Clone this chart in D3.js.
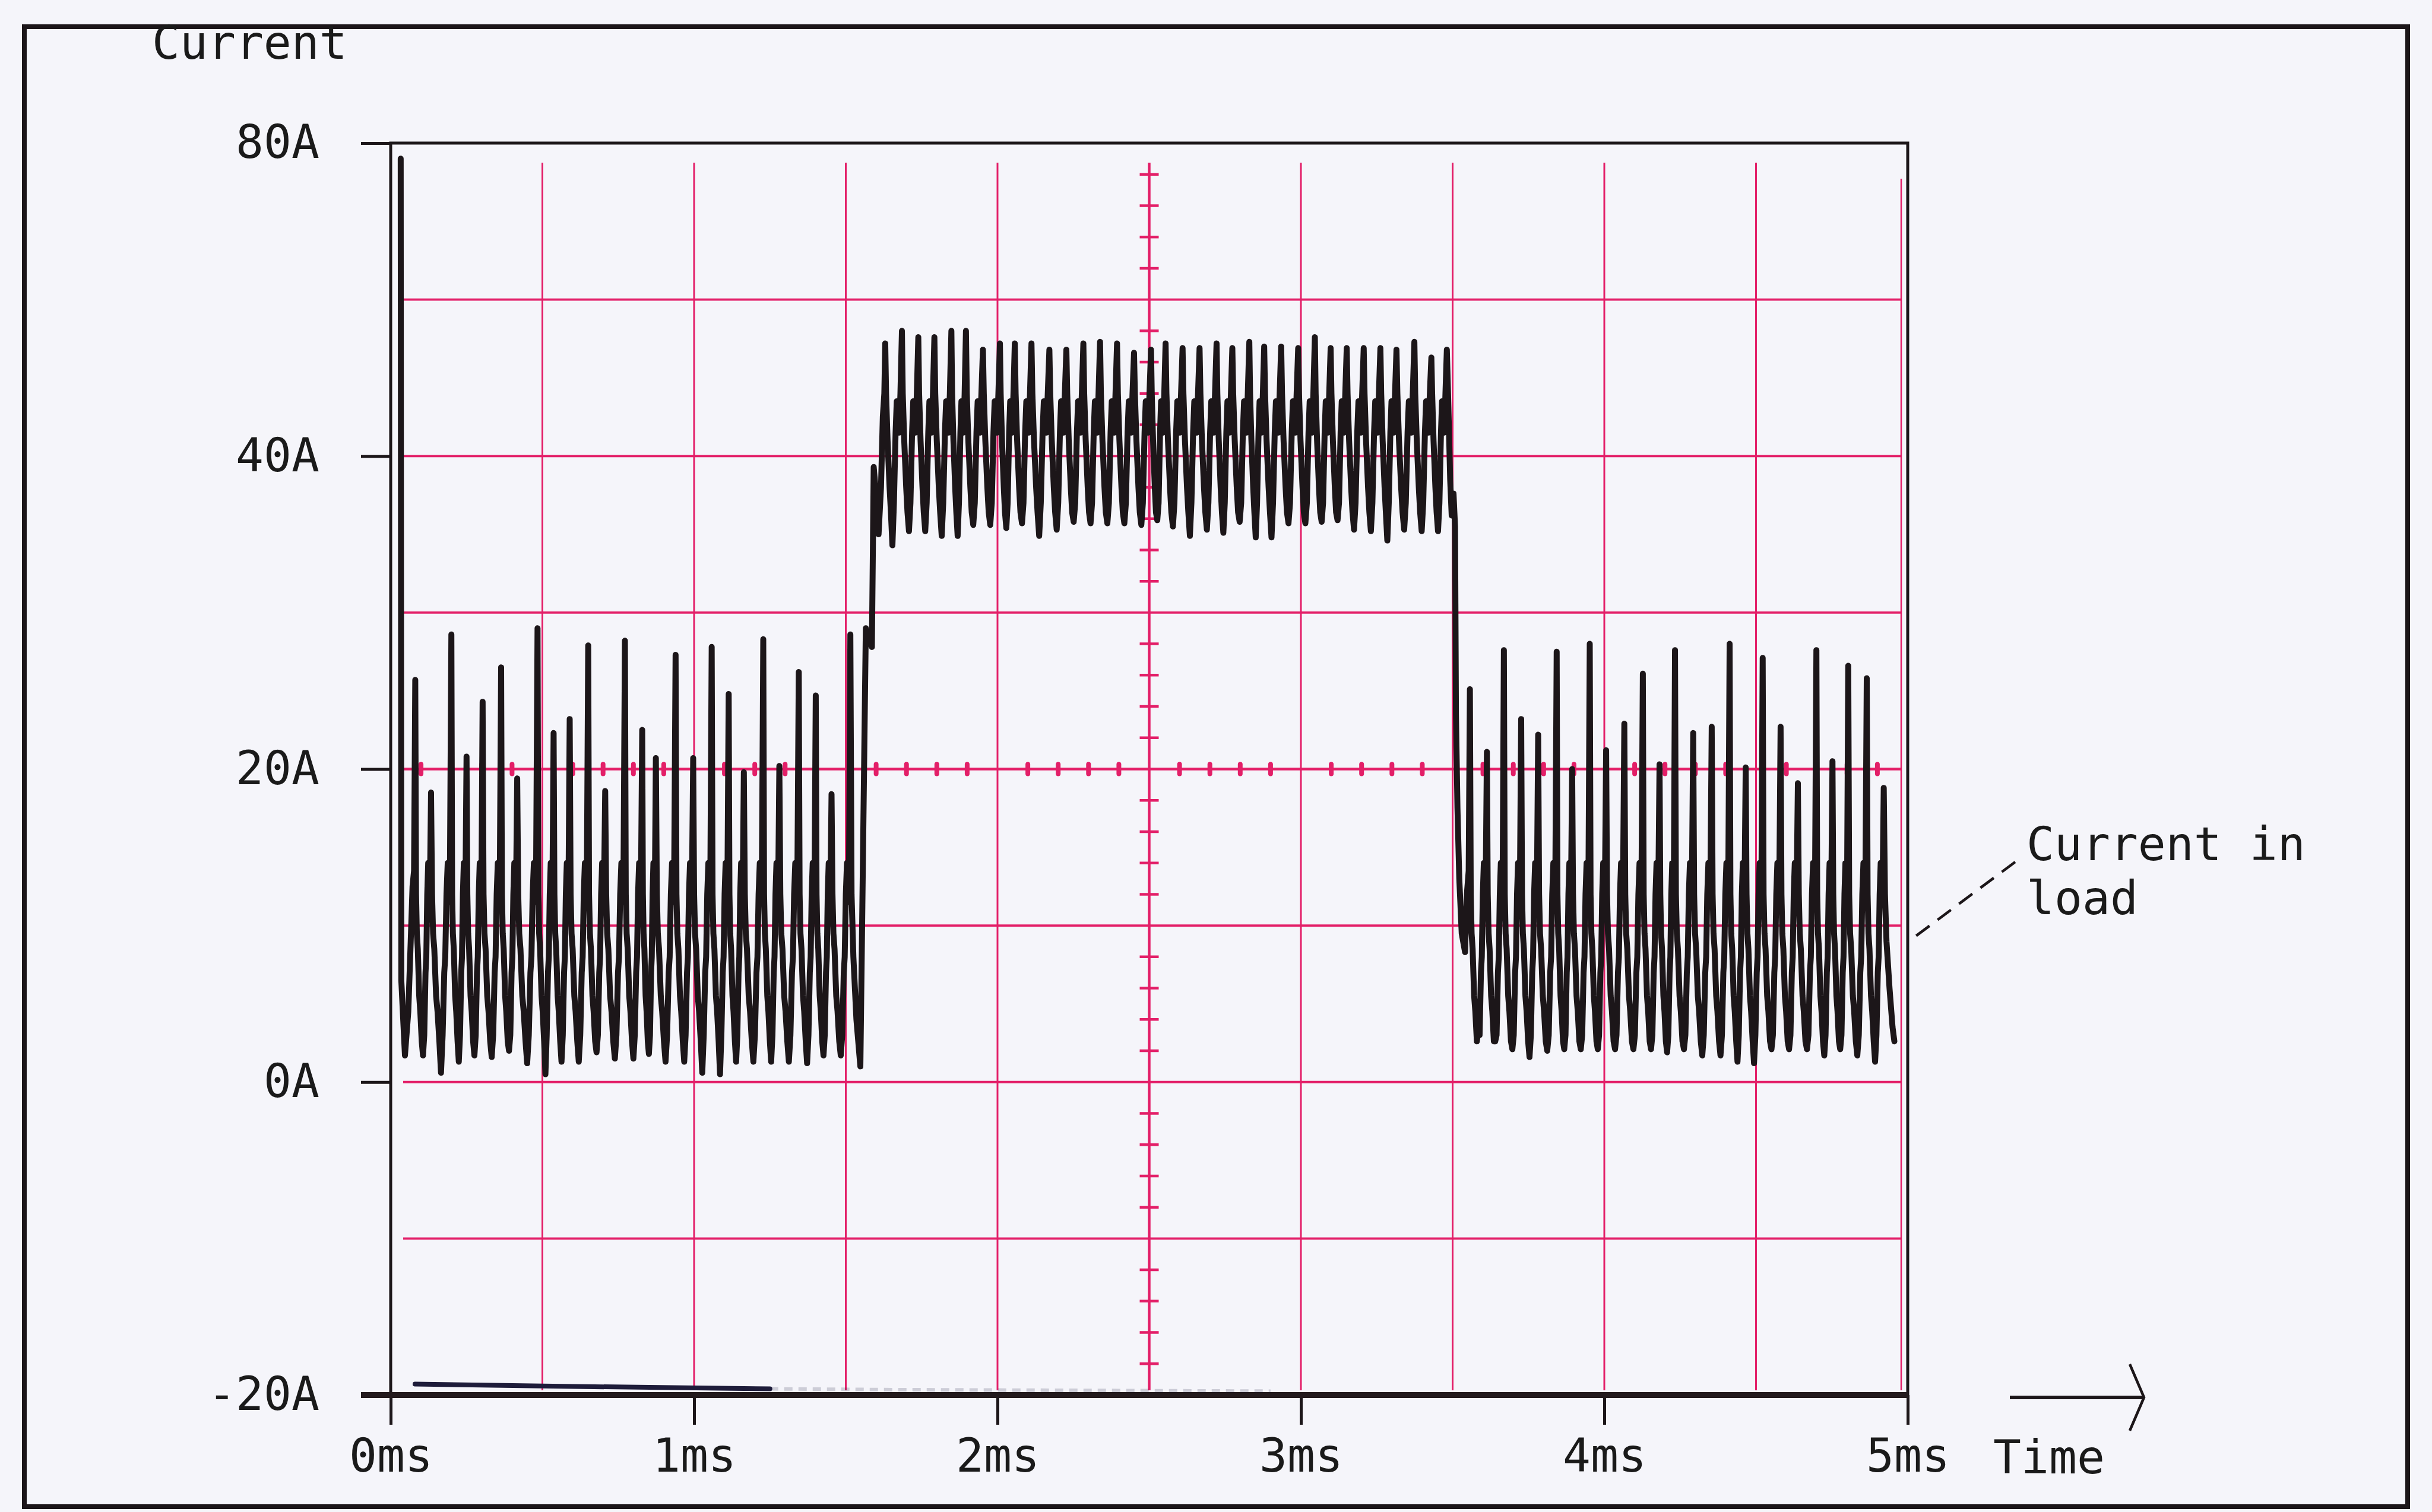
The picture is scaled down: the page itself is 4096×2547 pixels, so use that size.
<!DOCTYPE html>
<html>
<head>
<meta charset="utf-8">
<script src="https://d3js.org/d3.v7.min.js"></script>
<style>
  html, body { margin: 0; padding: 0; background: #f5f5fa; }
  svg { display: block; }
  .lbl { font-family: "DejaVu Sans Mono", monospace; font-size: 78px; fill: #1a1a1a; }
</style>
</head>
<body>
<div id="scope"></div>
<script>
// Tick labels, as printed on the plot (top label really reads 80A)
var xTicks = [0, 1, 2, 3, 4, 5];
var xTickLabels = ["0ms", "1ms", "2ms", "3ms", "4ms", "5ms"];
var yTicks = [-20, 0, 20, 40, 60];
var yTickLabels = ["-20A", "0A", "20A", "40A", "80A"];

// Graticule lines (ms / A)
var gridTimes = [0.5, 1, 1.5, 2, 2.5, 3, 3.5, 4, 4.5];
var gridAmps = [-10, 0, 10, 20, 30, 40, 50];

// Current in load - low power phase 1 (peak times in ms, peak and trough currents in A)
var lowTimes1 = [0.081, 0.133, 0.200, 0.250, 0.303, 0.364, 0.417, 0.484, 0.537, 0.590, 0.651, 0.707, 0.772,
  0.829, 0.874, 0.939, 0.997, 1.058, 1.114, 1.164, 1.228, 1.281, 1.345, 1.401, 1.453, 1.515];
var lowPeaks1 = [25.7, 18.5, 28.6, 20.8, 24.3, 26.5, 19.4, 29.0, 22.3, 23.2, 27.9, 18.6, 28.2,
  22.5, 20.7, 27.3, 20.7, 27.8, 24.8, 19.8, 28.3, 20.2, 26.2, 24.7, 18.4, 28.6];
var lowTroughs1 = [1.7, 0.6, 1.3, 1.7, 1.6, 2.0, 1.2, 0.5, 1.3, 1.3, 1.9, 1.5, 1.5,
  1.8, 1.3, 1.3, 0.6, 0.5, 1.3, 1.3, 1.3, 1.3, 1.2, 1.7, 1.7];

// High power phase
var highTimes = [1.630, 1.685, 1.739, 1.792, 1.848, 1.896, 1.952, 2.008, 2.057, 2.112, 2.171, 2.227,
  2.283, 2.338, 2.394, 2.450, 2.506, 2.554, 2.610, 2.666, 2.722, 2.774, 2.830, 2.879, 2.935, 2.991,
  3.046, 3.098, 3.151, 3.207, 3.262, 3.315, 3.374, 3.430, 3.481];
var highPeaks = [47.2, 48.0, 47.6, 47.6, 48.0, 48.0, 46.8, 47.2, 47.2, 47.2, 46.8, 46.8,
  47.2, 47.3, 47.2, 46.6, 46.8, 47.2, 46.9, 46.9, 47.2, 46.9, 47.3, 47.0, 47.0, 46.9,
  47.6, 46.9, 46.9, 46.9, 46.9, 46.8, 47.3, 46.3, 46.8];
var highTroughs = [34.3, 35.2, 35.2, 34.9, 34.9, 35.6, 35.6, 35.4, 35.7, 34.9, 35.3, 35.8,
  35.7, 35.7, 35.7, 35.6, 35.9, 35.5, 34.9, 35.3, 35.1, 35.8, 34.8, 34.8, 35.7, 35.7,
  35.8, 35.9, 35.3, 35.2, 34.6, 35.3, 35.2, 35.2];

// Low power phase 2
var lowTimes2 = [3.557, 3.613, 3.669, 3.726, 3.782, 3.843, 3.894, 3.952, 4.006, 4.066, 4.127, 4.182,
  4.233, 4.293, 4.354, 4.413, 4.466, 4.522, 4.581, 4.638, 4.699, 4.752, 4.804, 4.865, 4.921];
var lowPeaks2 = [25.1, 21.1, 27.6, 23.2, 22.2, 27.5, 20.0, 28.0, 21.2, 22.9, 26.1, 20.3,
  27.6, 22.3, 22.7, 28.0, 20.1, 27.1, 22.7, 19.1, 27.6, 20.5, 26.6, 25.8, 18.8];
var lowTroughs2 = [3.3, 2.6, 2.1, 1.6, 2.0, 2.1, 2.1, 2.1, 2.1, 2.1, 2.1, 1.9,
  2.1, 1.7, 1.7, 1.3, 1.2, 2.1, 2.1, 2.1, 1.7, 2.1, 1.7, 1.3];

// Shape of one ripple cycle between two peaks: [fraction of gap, current A]
// (spike falls in steps to the trough, then a rounded hump before the next spike)
var lowFall = [[0.05, 12], [0.10, 9.5], [0.16, 8.5], [0.25, 5.5], [0.32, 4.5], [0.41, 2.6]];
var lowRise = [[0.57, 3], [0.65, 7], [0.70, 8], [0.76, 12], [0.82, 14], [0.88, 12.5], [0.92, 11.5]];
var highFall = [[0.05, 44], [0.14, 41], [0.26, 38], [0.34, 36.4]];
var highRise = [[0.52, 37], [0.62, 41.5], [0.69, 43.5], [0.76, 42], [0.83, 41.5], [0.91, 44]];

// Trace pieces between the phases [ms, A]
var traceStart = [[0.033, 59], [0.035, 6.5], [0.047, 1.7], [0.058, 4.5], [0.066, 9], [0.072, 12.5], [0.077, 13.5]];
var toHigh = [[1.519, 12], [1.525, 8], [1.535, 4], [1.548, 1.0], [1.566, 29.0], [1.576, 28.3], [1.586, 27.8],
  [1.592, 39.3], [1.600, 37.5], [1.608, 35.0], [1.616, 38], [1.622, 42.5], [1.627, 44]];
var toLow = [[3.485, 44], [3.492, 38.5], [3.497, 36.2], [3.503, 37.6], [3.508, 35.5], [3.511, 23.5],
  [3.516, 17.5], [3.522, 13.0], [3.530, 9.5], [3.541, 8.3], [3.547, 12], [3.553, 13.5]];
var traceEnd = [[4.925, 12], [4.930, 9], [4.940, 6], [4.950, 3.5], [4.956, 2.6]];

// second (flat) trace sitting on the bottom line
var baseTrace = [[0.08, -19.3], [0.6, -19.45], [1.25, -19.6]];
var baseTraceFaint = [[1.25, -19.6], [1.6, -19.65], [2.9, -19.75]];

// Chart Params
var svgWidth = 4096;
var svgHeight = 2547;
var plot = { left: 658, right: 3213, top: 241, bottom: 2350 };
var red = "#e31f68";
var ink = "#1c1619";

var svg = d3.select("#scope")
  .append("svg")
  .attr("width", svgWidth)
  .attr("height", svgHeight);

svg.append("rect")
  .attr("width", svgWidth).attr("height", svgHeight)
  .attr("fill", "#f5f5fa");

// outer page frame
svg.append("rect")
  .attr("x", 41).attr("y", 45)
  .attr("width", 4014).attr("height", 2493)
  .attr("fill", "none").attr("stroke", ink).attr("stroke-width", 8);

var x = d3.scaleLinear().domain([0, 5]).range([plot.left, plot.right]);
var y = d3.scaleLinear().domain([-20, 60]).range([plot.bottom, plot.top]);

// red graticule
var grid = svg.append("g").attr("stroke", red).attr("fill", "none");

grid.selectAll(".vgrid")
  .data(gridTimes)
  .enter().append("line")
  .attr("x1", d => x(d)).attr("x2", d => x(d))
  .attr("y1", plot.top + 33).attr("y2", plot.bottom - 8)
  .attr("stroke-width", d => d === 2.5 ? 4.5 : 3);

grid.append("line")
  .attr("x1", x(5) - 11).attr("x2", x(5) - 11)
  .attr("y1", plot.top + 60).attr("y2", plot.bottom - 8)
  .attr("stroke-width", 2.5);

grid.selectAll(".hgrid")
  .data(gridAmps)
  .enter().append("line")
  .attr("x1", plot.left + 21).attr("x2", plot.right - 11)
  .attr("y1", d => y(d)).attr("y2", d => y(d))
  .attr("stroke-width", d => d === 20 ? 4.5 : 3.8);

// minor marks on the centre lines
var vMinor = d3.range(-18, 60, 2).filter(v => v % 10 !== 0);
grid.selectAll(".vminor")
  .data(vMinor)
  .enter().append("line")
  .attr("x1", x(2.5) - 16).attr("x2", x(2.5) + 16)
  .attr("y1", d => y(d)).attr("y2", d => y(d))
  .attr("stroke-width", 4.5);

var hMinor = d3.range(1, 50).filter(v => v % 5 !== 0).map(v => v / 10);
grid.selectAll(".hminor")
  .data(hMinor)
  .enter().append("line")
  .attr("x1", d => x(d)).attr("x2", d => x(d))
  .attr("y1", y(20) - 8).attr("y2", y(20) + 8)
  .attr("stroke-width", 8)
  .attr("stroke-linecap", "round");

// black plot box
svg.append("rect")
  .attr("x", plot.left).attr("y", plot.top)
  .attr("width", plot.right - plot.left).attr("height", plot.bottom - plot.top)
  .attr("fill", "none").attr("stroke", ink).attr("stroke-width", 5);

// axes
var bottomAxis = d3.axisBottom(x)
  .tickValues(xTicks)
  .tickFormat((d, i) => xTickLabels[i])
  .tickSize(50)
  .tickPadding(24);

var leftAxis = d3.axisLeft(y)
  .tickValues(yTicks)
  .tickFormat((d, i) => yTickLabels[i])
  .tickSize(50)
  .tickPadding(70);

var xAxisG = svg.append("g")
  .attr("transform", `translate(0, ${plot.bottom})`)
  .call(bottomAxis);

var yAxisG = svg.append("g")
  .attr("transform", `translate(${plot.left}, 0)`)
  .call(leftAxis);

[xAxisG, yAxisG].forEach(function(g) {
  g.select(".domain").remove();
  g.attr("font-family", null).attr("font-size", null);
  g.selectAll(".tick line").attr("stroke", ink).attr("stroke-width", 5);
  g.selectAll(".tick text").attr("class", "lbl").attr("fill", null);
});

// thick time axis line
svg.append("line")
  .attr("x1", plot.left - 50).attr("x2", plot.right)
  .attr("y1", plot.bottom).attr("y2", plot.bottom)
  .attr("stroke", "#231a1c").attr("stroke-width", 10);

// the waveform
function buildCycles(times, peaks, troughs, fall, rise, troughAt) {
  var pts = [];
  times.forEach(function(t, i) {
    pts.push([t, peaks[i]]);
    if (i < times.length - 1) {
      var g = times[i + 1] - t;
      fall.forEach(p => pts.push([t + p[0] * g, p[1]]));
      pts.push([t + troughAt * g, troughs[i]]);
      rise.forEach(p => pts.push([t + p[0] * g, p[1]]));
    }
  });
  return pts;
}

var trace = [].concat(
  traceStart,
  buildCycles(lowTimes1, lowPeaks1, lowTroughs1, lowFall, lowRise, 0.49),
  toHigh,
  buildCycles(highTimes, highPeaks, highTroughs, highFall, highRise, 0.43),
  toLow,
  buildCycles(lowTimes2, lowPeaks2, lowTroughs2, lowFall, lowRise, 0.49),
  traceEnd
);

var line = d3.line()
  .x(d => x(d[0]))
  .y(d => y(d[1]));

svg.append("path")
  .datum(trace)
  .attr("d", line)
  .attr("fill", "none")
  .attr("stroke", ink)
  .attr("stroke-width", 10)
  .attr("stroke-linejoin", "round")
  .attr("stroke-linecap", "round");

svg.append("path")
  .datum(baseTrace)
  .attr("d", line)
  .attr("fill", "none")
  .attr("stroke", "#1e1c3a")
  .attr("stroke-width", 8)
  .attr("stroke-linecap", "round");

svg.append("path")
  .datum(baseTraceFaint)
  .attr("d", line)
  .attr("fill", "none")
  .attr("stroke", "#1e1c3a")
  .attr("stroke-opacity", 0.18)
  .attr("stroke-width", 6)
  .attr("stroke-dasharray", "14,10");

// titles
svg.append("text")
  .attr("class", "lbl")
  .attr("x", 256).attr("y", 99)
  .text("Current");

svg.append("text")
  .attr("class", "lbl")
  .attr("x", 3357).attr("y", 2482)
  .text("Time");

// time arrow
svg.append("line")
  .attr("x1", 3385).attr("x2", 3611)
  .attr("y1", plot.bottom + 4).attr("y2", plot.bottom + 4)
  .attr("stroke", ink).attr("stroke-width", 6);

svg.append("path")
  .attr("d", `M3587,${plot.bottom - 52} L3611,${plot.bottom + 4} L3587,${plot.bottom + 60}`)
  .attr("fill", "none").attr("stroke", ink).attr("stroke-width", 4.5);

// annotation
var noteX = x(5) + 200;
svg.append("text").attr("class", "lbl").attr("x", noteX).attr("y", 1449).text("Current in");
svg.append("text").attr("class", "lbl").attr("x", noteX).attr("y", 1540).text("load");

svg.append("line")
  .attr("x1", noteX - 19).attr("y1", 1452)
  .attr("x2", x(5) + 2).attr("y2", y(9))
  .attr("stroke", ink).attr("stroke-width", 4.5)
  .attr("stroke-dasharray", "28,17");
</script>
</body>
</html>
